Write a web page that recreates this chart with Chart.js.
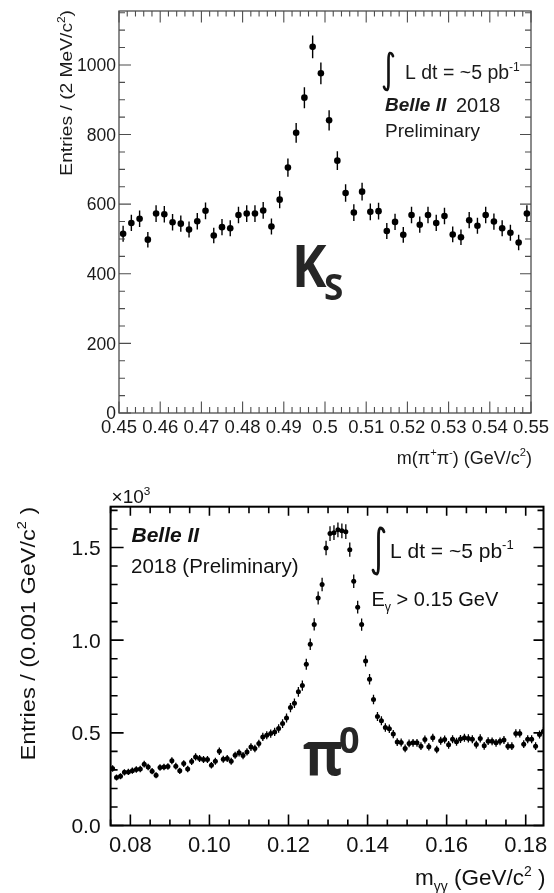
<!DOCTYPE html>
<html>
<head>
<meta charset="utf-8">
<script src="https://cdn.jsdelivr.net/npm/chart.js@4.4.0/dist/chart.umd.min.js"></script>
<style>
  html, body { margin: 0; padding: 0; background: #fff; }
  #wrap { position: relative; width: 554px; height: 893px; overflow: hidden; }
  .box { position: absolute; left: 0; width: 554px; }
  #top { top: 0; height: 470px; }
  #bot { top: 470px; height: 423px; }
</style>
</head>
<body>
<div id="wrap">
  <div class="box" id="top"><canvas id="ksChart"></canvas></div>
  <div class="box" id="bot"><canvas id="pi0Chart"></canvas></div>
</div>
<script>
// =============================
// DATA
// =============================
// K_S -> pi+ pi-, 2 MeV bins from 0.45 to 0.55 GeV
const ksBinLow = 0.45;
const ksBinWidth = 0.002;
const ksCounts = [
    515, 546, 558, 498, 573, 571, 548, 544, 527, 551,
    581, 510, 534, 531, 569, 573, 573, 582, 536, 613,
    705, 805, 906, 1052, 976, 841, 725, 632, 576, 636,
    578, 580, 523, 549, 512, 569, 541, 569, 546, 566,
    513, 505, 554, 538, 569, 550, 531, 518, 490, 573
];
const ksXTicks = [0.45, 0.46, 0.47, 0.48, 0.49, 0.50, 0.51, 0.52, 0.53, 0.54, 0.55];
const ksXTickLabels = ["0.45", "0.46", "0.47", "0.48", "0.49", "0.5", "0.51", "0.52", "0.53", "0.54", "0.55"];
const ksYTicks = [0, 200, 400, 600, 800, 1000];
const ksYTickLabels = ["0", "200", "400", "600", "800", "1000"];

// pi0 -> gamma gamma, 1 MeV bins from 0.075 to 0.185 GeV
const pi0BinLow = 0.075;
const pi0BinWidth = 0.001;
const pi0Counts = [
    307, 259, 266, 287, 289, 296, 302, 305, 331, 316,
    293, 271, 313, 316, 318, 349, 320, 295, 334, 305,
    345, 370, 361, 356, 356, 325, 347, 401, 358, 361,
    347, 379, 392, 377, 397, 423, 415, 442, 478, 487,
    496, 505, 523, 550, 580, 636, 660, 721, 755, 870,
    978, 1085, 1228, 1300, 1497, 1575, 1580, 1595, 1590, 1585,
    1488, 1318, 1178, 1084, 888, 789, 680, 588, 565, 529,
    522, 493, 450, 448, 416, 443, 446, 446, 428, 464,
    425, 473, 410, 457, 464, 435, 466, 452, 467, 473,
    470, 466, 437, 470, 430, 455, 454, 446, 454, 461,
    428, 428, 497, 497, 439, 466, 466, 428, 491, 509
];
const pi0XTicks = [0.08, 0.10, 0.12, 0.14, 0.16, 0.18];
const pi0XTickLabels = ["0.08", "0.10", "0.12", "0.14", "0.16", "0.18"];
const pi0YTicks = [0, 500, 1000, 1500];
const pi0YTickLabels = ["0.0", "0.5", "1.0", "1.5"];

// =============================
// HELPERS
// =============================
const FONT = "'Liberation Sans', Arial, Helvetica, sans-serif";
const BIG = "'Open Sans', 'Noto Sans', sans-serif";

function histPoints(low, width, counts) {
    return counts.map((c, i) => ({ x: low + (i + 0.5) * width, y: c }));
}

function partFont(kind, size, weight) {
    const s = kind ? size * 0.62 : size;
    return `${weight || "normal"} ${s}px ${FONT}`;
}

// parts: [[text, null|'sup'|'sub'], ...]
function drawRich(ctx, parts, x, y, size, align, weight) {
    let w = 0;
    parts.forEach(([t, k]) => {
        ctx.font = partFont(k, size, weight);
        w += ctx.measureText(t).width;
    });
    let cx = align === "right" ? x - w : align === "center" ? x - w / 2 : x;
    ctx.textAlign = "left";
    ctx.textBaseline = "alphabetic";
    parts.forEach(([t, k]) => {
        ctx.font = partFont(k, size, weight);
        const dy = k === "sup" ? -size * 0.42 : k === "sub" ? size * 0.25 : 0;
        ctx.fillText(t, cx, y + dy);
        cx += ctx.measureText(t).width;
    });
}

function drawIntegral(ctx, xc, top, bot, hw, lw) {
    ctx.save();
    ctx.lineWidth = lw;
    ctx.lineCap = "round";
    ctx.beginPath();
    ctx.moveTo(xc + hw, top + hw * 0.7);
    ctx.quadraticCurveTo(xc + hw * 0.8, top, xc + hw * 0.3, top);
    ctx.quadraticCurveTo(xc, top + 1, xc, top + hw * 1.6);
    ctx.lineTo(xc, bot - hw * 1.6);
    ctx.quadraticCurveTo(xc, bot - 1, xc - hw * 0.3, bot);
    ctx.quadraticCurveTo(xc - hw * 0.8, bot, xc - hw, bot - hw * 0.7);
    ctx.stroke();
    ctx.restore();
}

// rotated axis title, end of the text at (x, top)
function drawYTitle(ctx, parts, x, top, size, stretch) {
    ctx.save();
    ctx.translate(x, top);
    ctx.rotate(-Math.PI / 2);
    ctx.scale(stretch, 1);
    drawRich(ctx, parts, 0, 0, size, "right");
    ctx.restore();
}

// vertical (and optional horizontal) error bars, sqrt(N)
function errorBarsPlugin(lineWidth, halfBin) {
    return {
        id: "errorBars",
        beforeDatasetsDraw(chart) {
            const { ctx, chartArea: a, scales: { x, y } } = chart;
            ctx.save();
            ctx.beginPath();
            ctx.rect(a.left, a.top, a.right - a.left, a.bottom - a.top);
            ctx.clip();
            ctx.strokeStyle = "#000";
            ctx.lineWidth = lineWidth;
            ctx.beginPath();
            chart.data.datasets[0].data.forEach(p => {
                const err = Math.sqrt(p.y);
                const px = x.getPixelForValue(p.x);
                const py = y.getPixelForValue(p.y);
                ctx.moveTo(px, y.getPixelForValue(p.y - err));
                ctx.lineTo(px, y.getPixelForValue(p.y + err));
                if (halfBin) {
                    ctx.moveTo(x.getPixelForValue(p.x - halfBin), py);
                    ctx.lineTo(x.getPixelForValue(p.x + halfBin), py);
                }
            });
            ctx.stroke();
            ctx.restore();
        }
    };
}

// =============================
// K_S FRAME + TEXT
// =============================
const ksFrame = {
    id: "ksFrame",
    afterDraw(chart) {
        const { ctx, chartArea: a, scales: { x, y } } = chart;
        ctx.save();
        ctx.strokeStyle = "#4d4d4d";
        ctx.lineWidth = 1.3;
        ctx.strokeRect(a.left, a.top, a.right - a.left, a.bottom - a.top);

        ctx.lineWidth = 1.1;
        ctx.beginPath();
        for (let i = 0; i <= 50; i++) {
            const px = x.getPixelForValue(ksBinLow + i * ksBinWidth);
            const major = i % 5 === 0;
            ctx.moveTo(px, a.bottom);
            ctx.lineTo(px, a.bottom - (major ? 11.5 : 6));
            ctx.moveTo(px, a.top);
            ctx.lineTo(px, a.top + (major ? 11.5 : 5.5));
        }
        for (let v = 0; v <= 1150; v += 50) {
            const py = y.getPixelForValue(v);
            const major = v % 200 === 0;
            ctx.moveTo(a.left, py);
            ctx.lineTo(a.left + (major ? 12 : 6), py);
            ctx.moveTo(a.right, py);
            ctx.lineTo(a.right - (major ? 11 : 6), py);
        }
        ctx.stroke();

        ctx.fillStyle = "#1a1a1a";
        ctx.font = `18.5px ${FONT}`;
        ctx.textAlign = "center";
        ctx.textBaseline = "alphabetic";
        ksXTicks.forEach((v, i) => {
            ctx.fillText(ksXTickLabels[i], x.getPixelForValue(v), a.bottom + 20);
        });
        ctx.font = `17.5px ${FONT}`;
        ctx.textAlign = "right";
        ksYTicks.forEach((v, i) => {
            ctx.fillText(ksYTickLabels[i], a.left - 3, y.getPixelForValue(v) + 6.3);
        });

        // axis titles
        drawRich(ctx, [["m(\u03c0", null], ["+", "sup"], ["\u03c0", null], ["-", "sup"],
            [") (GeV/c", null], ["2", "sup"], [")", null]], a.right + 1, 464, 18, "right");
        drawYTitle(ctx, [["Entries / (2 MeV/c", null], ["2", "sup"], [")", null]], 72, a.top - 1, 17, 1.13);

        // legend text
        ctx.strokeStyle = "#111";
        drawIntegral(ctx, 388.5, 53, 90, 4.5, 2.6);
        drawRich(ctx, [["L dt = ~5 pb", null], ["-1", "sup"]], 405, 79, 19.5, "left");
        ctx.font = `italic bold 19px ${FONT}`;
        ctx.textAlign = "left";
        ctx.fillText("Belle II", 385, 111);
        ctx.font = `20px ${FONT}`;
        ctx.fillText("2018", 456, 111.5);
        ctx.font = `19px ${FONT}`;
        ctx.fillText("Preliminary", 385, 136.5);

        // big K_S label
        ctx.fillStyle = "#262626";
        ctx.save();
        ctx.translate(292, 287);
        ctx.scale(0.88, 1);
        ctx.font = `bold 59px ${BIG}`;
        ctx.fillText("K", 0, 0);
        ctx.restore();
        ctx.font = `bold 35px ${BIG}`;
        ctx.fillText("S", 324, 300);
        ctx.restore();
    }
};

// =============================
// PI0 FRAME + TEXT
// =============================
const pi0Frame = {
    id: "pi0Frame",
    afterDraw(chart) {
        const { ctx, chartArea: a, scales: { x, y } } = chart;
        ctx.save();
        ctx.strokeStyle = "#000";
        ctx.lineWidth = 2;
        ctx.strokeRect(a.left, a.top, a.right - a.left, a.bottom - a.top);

        ctx.lineWidth = 1.6;
        ctx.beginPath();
        for (let i = 15; i <= 36; i++) {
            const px = x.getPixelForValue(i * 0.005);
            const major = i % 4 === 0;
            ctx.moveTo(px, a.bottom);
            ctx.lineTo(px, a.bottom - (major ? 11 : 6));
            ctx.moveTo(px, a.top);
            ctx.lineTo(px, a.top + (major ? 9 : 6.5));
        }
        for (let v = 0; v <= 1700; v += 100) {
            const py = y.getPixelForValue(v);
            const major = v % 500 === 0;
            ctx.moveTo(a.left, py);
            ctx.lineTo(a.left + (major ? 13 : 7), py);
            ctx.moveTo(a.right, py);
            ctx.lineTo(a.right - (major ? 10 : 6), py);
        }
        ctx.stroke();

        ctx.fillStyle = "#111";
        ctx.font = `22px ${FONT}`;
        ctx.textAlign = "center";
        ctx.textBaseline = "alphabetic";
        pi0XTicks.forEach((v, i) => {
            ctx.fillText(pi0XTickLabels[i], x.getPixelForValue(v), a.bottom + 26.5);
        });
        ctx.font = `21px ${FONT}`;
        ctx.textAlign = "right";
        pi0YTicks.forEach((v, i) => {
            ctx.fillText(pi0YTickLabels[i], a.left - 10, y.getPixelForValue(v) + 7.5);
        });

        // exponent
        drawRich(ctx, [["\u00d710", null], ["3", "sup"]], a.left + 1, a.top - 4, 19, "left");

        // axis titles
        drawRich(ctx, [["m", null], ["\u03b3\u03b3", "sub"], [" (GeV/c", null], ["2", "sup"], [" )", null]],
            a.right + 2, 415, 22.5, "right");
        drawYTitle(ctx, [["Entries / (0.001 GeV/c", null], ["2", "sup"], [" )", null]], 35, a.top, 21, 1.12);

        // legend text
        ctx.font = `italic bold 21px ${FONT}`;
        ctx.textAlign = "left";
        ctx.fillText("Belle II", 131.5, 71.5);
        ctx.font = `20.5px ${FONT}`;
        ctx.fillText("2018 (Preliminary)", 131, 103);
        ctx.strokeStyle = "#111";
        drawIntegral(ctx, 378.5, 58, 104, 5.5, 2.8);
        drawRich(ctx, [["L dt = ~5 pb", null], ["-1", "sup"]], 390, 88, 21, "left");
        drawRich(ctx, [["E", null], ["\u03b3", "sub"], [" > 0.15 GeV", null]], 371.5, 135.5, 20, "left");

        // big pi0 label
        ctx.fillStyle = "#262626";
        ctx.save();
        ctx.translate(303, 305);
        ctx.scale(0.9, 1);
        ctx.font = `bold 60px ${BIG}`;
        ctx.fillText("\u03c0", 0, 0);
        ctx.restore();
        ctx.font = `bold 36px ${BIG}`;
        ctx.fillText("0", 339, 283);
        ctx.restore();
    }
};

// =============================
// CHARTS
// =============================
function makeHistChart(id, points, xRange, yRange, padding, radius, plugins) {
    return new Chart(document.getElementById(id), {
        type: "scatter",
        data: {
            datasets: [{
                data: points,
                pointRadius: radius,
                pointHoverRadius: radius,
                pointStyle: "circle",
                backgroundColor: "#000",
                borderColor: "#000",
                borderWidth: 0
            }]
        },
        options: {
            responsive: true,
            maintainAspectRatio: false,
            animation: false,
            devicePixelRatio: 1,
            events: [],
            layout: { padding },
            plugins: { legend: { display: false }, tooltip: { enabled: false } },
            scales: {
                x: { type: "linear", display: false, min: xRange[0], max: xRange[1] },
                y: { type: "linear", display: false, min: yRange[0], max: yRange[1] }
            }
        },
        plugins
    });
}

makeHistChart("ksChart", histPoints(ksBinLow, ksBinWidth, ksCounts),
    [0.45, 0.55], [0, 1155],
    { left: 119, right: 23, top: 11, bottom: 57 },
    3.3, [errorBarsPlugin(1.4, 0), ksFrame]);

makeHistChart("pi0Chart", histPoints(pi0BinLow, pi0BinWidth, pi0Counts),
    [0.075, 0.1845], [0, 1720],
    { left: 110.6, right: 10.5, top: 36.7, bottom: 67.5 },
    2.5, [errorBarsPlugin(1.3, pi0BinWidth / 2), pi0Frame]);
</script>
</body>
</html>
